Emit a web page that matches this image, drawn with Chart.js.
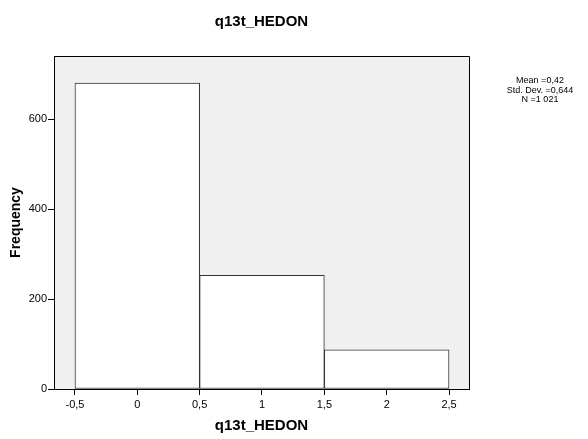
<!DOCTYPE html>
<html>
<head>
<meta charset="utf-8">
<script src="https://cdn.jsdelivr.net/npm/chart.js@4"></script>
<style>
  body { margin: 0; background: #fff; }
</style>
</head>
<body>
<canvas id="hist" width="588" height="439"></canvas>
<script>
// histogram of q13t_HEDON (bins of width 1, centred on 0, 1, 2)
const binCenters = [0, 1, 2];
const frequencies = [681, 253, 87];
const xTicks = [-0.5, 0, 0.5, 1, 1.5, 2, 2.5];
const yTicks = [0, 200, 400, 600];
const statsLines = ["Mean =0,42", "Std. Dev. =0,644", "N =1 021"];
const chartTitle = "q13t_HEDON";

const FONT = "'Liberation Sans', Arial, sans-serif";

const fmt = v => String(v).replace(".", ",");

const frame = {
  id: "frame",
  beforeDraw(chart) {
    const { ctx, chartArea: a } = chart;
    ctx.save();
    ctx.fillStyle = "#f0f0f0";
    ctx.fillRect(a.left, a.top, a.right - a.left, a.bottom - a.top);
    ctx.restore();
  },
  afterDatasetsDraw(chart) {
    const { ctx, chartArea: a } = chart;
    ctx.save();
    ctx.strokeStyle = "#000";
    ctx.lineWidth = 1;
    ctx.beginPath();
    ctx.moveTo(a.left, a.top + 0.5);
    ctx.lineTo(a.right + 0.5, a.top + 0.5);
    ctx.lineTo(a.right + 0.5, a.bottom);
    ctx.stroke();
    ctx.restore();
  },
  afterDraw(chart) {
    const { ctx, chartArea: a } = chart;
    ctx.save();
    ctx.fillStyle = "#000";
    ctx.textAlign = "center";
    ctx.textBaseline = "middle";
    ctx.font = "bold 15px " + FONT;
    ctx.fillText(chartTitle, (a.left + a.right) / 2, 22);
    ctx.font = "9px " + FONT;
    statsLines.forEach((s, i) => ctx.fillText(s, 540, 81 + i * 9.5));
    ctx.restore();
  }
};

new Chart(document.getElementById("hist"), {
  type: "bar",
  data: {
    datasets: [{
      data: binCenters.map((c, i) => ({ x: c, y: frequencies[i] })),
      backgroundColor: "#ffffff",
      borderColor: "#333333",
      borderWidth: 1,
      borderSkipped: false,
      barThickness: "flex",
      barPercentage: 1,
      categoryPercentage: 1
    }]
  },
  options: {
    responsive: false,
    animation: false,
    layout: { padding: { top: 56, right: 119, bottom: 0, left: 0 } },
    plugins: {
      legend: { display: false },
      tooltip: { enabled: false }
    },
    scales: {
      x: {
        type: "linear",
        offset: false,
        min: -0.668,
        max: 2.66,
        afterBuildTicks: s => { s.ticks = xTicks.map(v => ({ value: v })); },
        afterFit: s => { s.height = 50; },
        grid: { offset: false, drawOnChartArea: false, drawTicks: true, tickLength: 6, color: "#000" },
        border: { display: true, color: "#000" },
        ticks: {
          color: "#000",
          padding: 3,
          maxRotation: 0,
          font: { family: FONT, size: 11 },
          callback: v => fmt(v)
        },
        title: {
          display: true,
          text: "q13t_HEDON",
          color: "#000",
          font: { family: FONT, size: 15, weight: "bold" },
          padding: { top: 0, bottom: 4 }
        }
      },
      y: {
        min: 0,
        max: 741,
        afterBuildTicks: s => { s.ticks = yTicks.map(v => ({ value: v })); },
        afterFit: s => { s.width = 54; },
        grid: { drawOnChartArea: false, drawTicks: true, tickLength: 6, color: "#000" },
        border: { display: true, color: "#000" },
        ticks: {
          color: "#000",
          padding: 1,
          font: { family: FONT, size: 11 },
          callback: v => fmt(v)
        },
        title: {
          display: true,
          text: "Frequency",
          color: "#000",
          font: { family: FONT, size: 14, weight: "bold" },
          padding: { top: 8, bottom: 0 }
        }
      }
    }
  },
  plugins: [frame]
});
</script>
</body>
</html>
